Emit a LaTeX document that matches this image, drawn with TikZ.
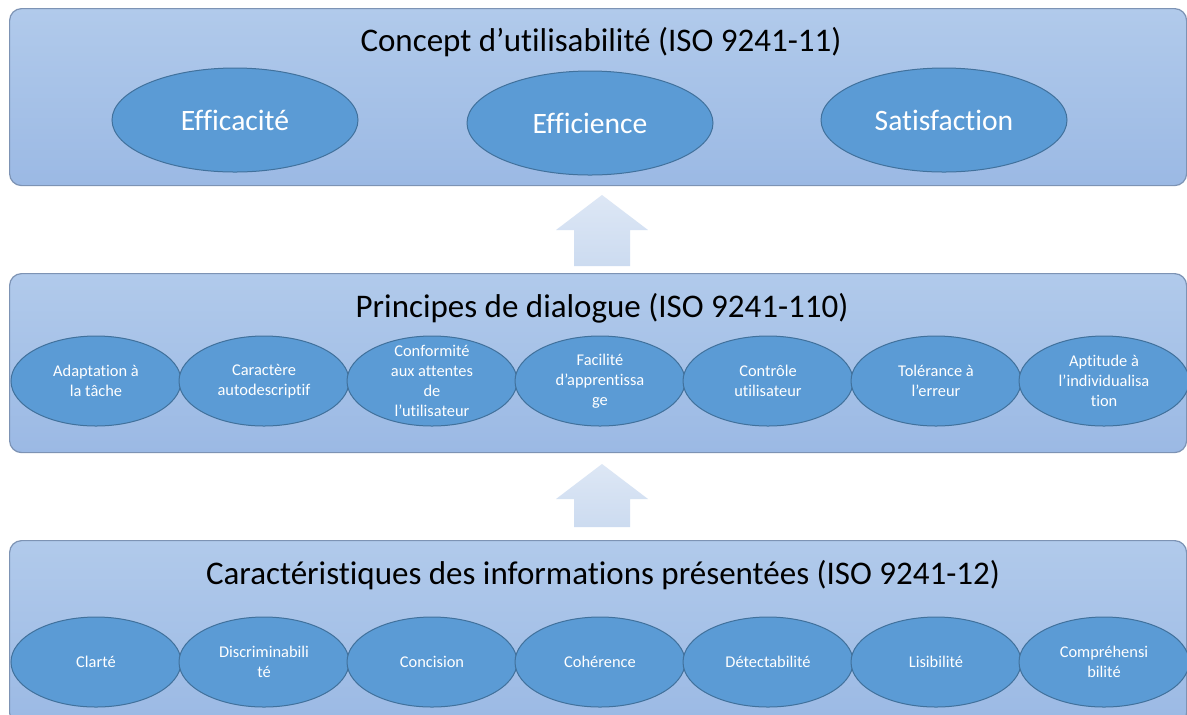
\documentclass[tikz,border=0pt]{standalone}
\usepackage{fontspec}
\setmainfont{Carlito}[Ligatures=NoCommon]
\usetikzlibrary{shapes.geometric}

\definecolor{layertop}{HTML}{B1CAEB}
\definecolor{layerbot}{HTML}{9BB9E4}
\definecolor{layerline}{HTML}{7D93B4}
\definecolor{ellfill}{HTML}{5B9BD5}
\definecolor{ellline}{HTML}{41719C}
\definecolor{arrtop}{HTML}{DDE7F5}
\definecolor{arrbot}{HTML}{CCDBF0}

\tikzset{
  layer/.style={draw=layerline, line width=0.6pt, rounded corners=6pt,
    top color=layertop, bottom color=layerbot, anchor=north west,
    minimum width=588.5pt},
  bigtitle/.style={font=\fontsize{16.5}{20}\selectfont, text=black},
  bigell/.style={ellipse, draw=ellline, fill=ellfill, line width=0.5pt,
    minimum width=123pt, minimum height=52pt, inner sep=-20pt,
    text=white, font=\fontsize{14.8}{17}\selectfont},
  smallell/.style={ellipse, draw=ellline, fill=ellfill, line width=0.5pt,
    minimum width=85pt, minimum height=45pt, inner sep=-30pt,
    text=white, align=center, font=\fontsize{8.2}{10}\selectfont},
}

\begin{document}
\begin{tikzpicture}[x=0.5pt, y=-0.5pt]
    \clip (0,0) rectangle (1187,714);
    \fill[white] (0,0) rectangle (1187,714);

    % the three layers
    \node[layer, minimum height=88.5pt] (usab) at (9,8) {};
    \node[layer, minimum height=89.5pt] (dial) at (9,273) {};
    \node[layer, minimum height=92pt] (info) at (9,540) {};

    \node[bigtitle] (usabtitle) at (601,42) {Concept d’utilisabilité (ISO 9241-11)};
    \node[bigtitle] (dialtitle) at (602,308) {Principes de dialogue (ISO 9241-110)};
    \node[bigtitle] (infotitle) at (603,575) {Caractéristiques des informations présentées (ISO 9241-12)};

    % usability
    \node[bigell] (eff) at (235,120) {Efficacité};
    \node[bigell] (effi) at (590,123) {Efficience};
    \node[bigell] (sat) at (944,120) {Satisfaction};

    % dialogue principles
    \foreach \lbl [count=\i from 0] in {{Adaptation à\\la tâche}, {Caractère\\autodescriptif},
        {Conformité\\aux attentes\\de\\l’utilisateur}, {Facilité\\d’apprentissa\\ge},
        {Contrôle\\utilisateur}, {Tolérance à\\l’erreur}, {Aptitude à\\l’individualisa\\tion}} {
        \node[smallell] (prin\i) at (96+168*\i, 381) {\lbl};
    }

    % information characteristics
    \foreach \lbl [count=\i from 0] in {Clarté, {Discriminabili\\té}, Concision, Cohérence,
        Détectabilité, Lisibilité, {Compréhensi\\bilité}} {
        \node[smallell] (car\i) at (96+168*\i, 662) {\lbl};
    }

    % block arrows between layers
    \foreach \yt/\yb in {195/266, 464/527} {
        \shade[top color=arrtop, bottom color=arrbot] (602,\yt) -- (648,\yt+35) -- (630,\yt+35)
            -- (630,\yb) -- (574,\yb) -- (574,\yt+35) -- (556,\yt+35) -- cycle;
    }

\end{tikzpicture}
\end{document}
